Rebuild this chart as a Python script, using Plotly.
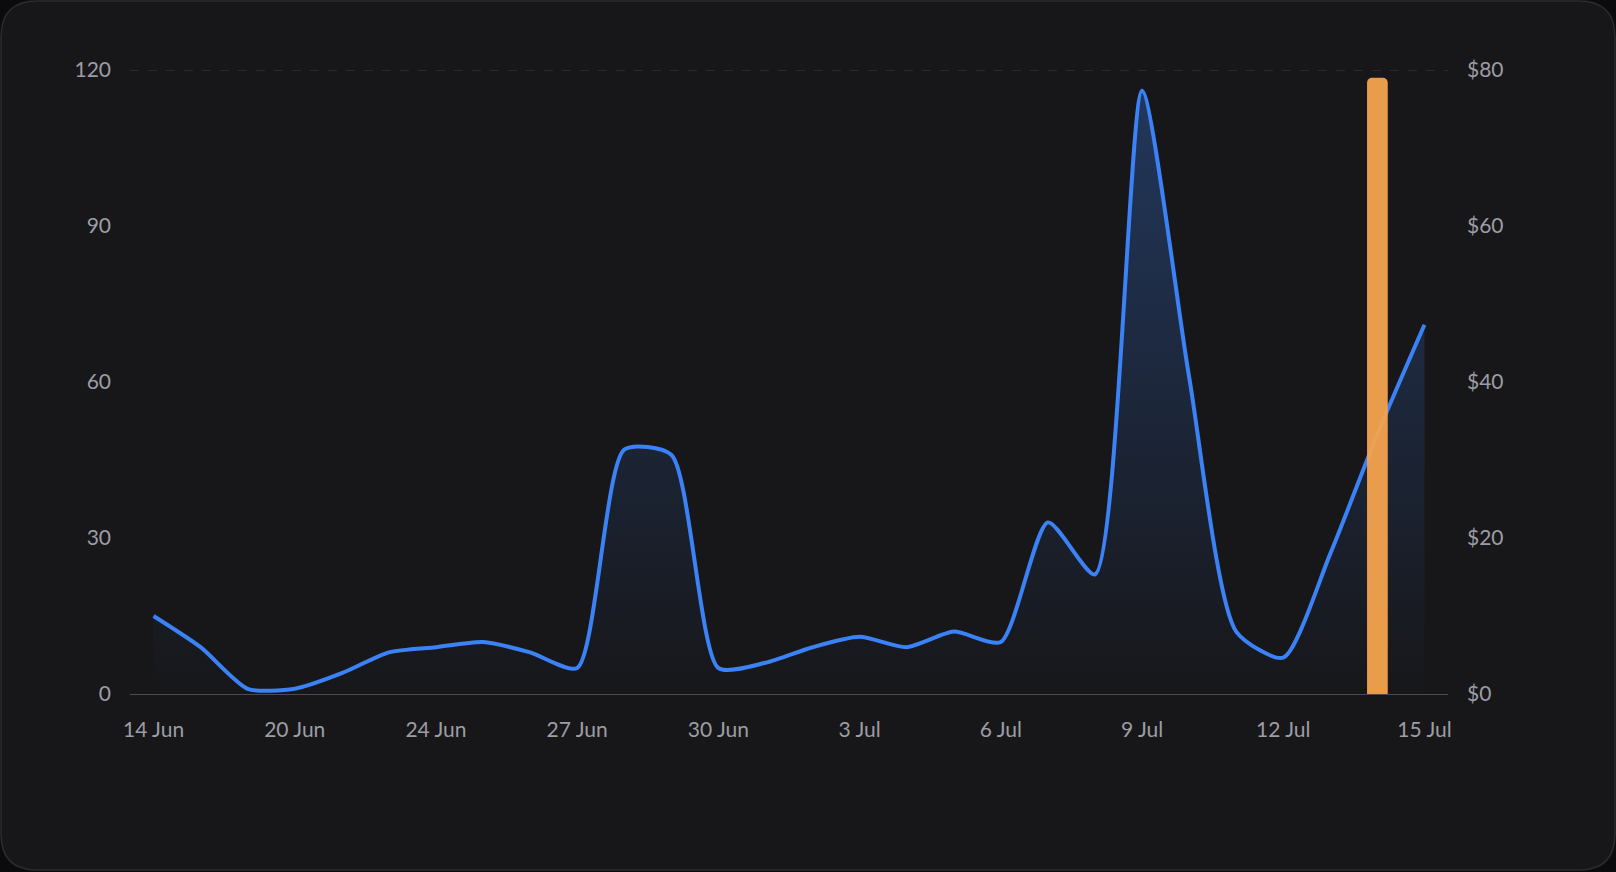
import plotly.graph_objects as go

# ---- data ----
tick_labels = ["14 Jun", "20 Jun", "24 Jun", "27 Jun", "30 Jun", "3 Jul", "6 Jul", "9 Jul", "12 Jul", "15 Jul"]
points = list(range(28))            # data points (every 3rd one labelled)
tick_points = list(range(0, 28, 3))
volume = [15, 9, 1, 1, 4, 8, 9, 10, 8, 5,
          47, 46, 5, 6, 9, 11, 9, 12, 10, 33,
          23, 116, 61, 12, 7, 27, 50, 71]
price = [0] * 26 + [79, 0]
left_ticks = [0, 30, 60, 90, 120]
right_ticks = [0, 20, 40, 60, 80]
right_tick_text = ["$0", "$20", "$40", "$60", "$80"]

# ---- layout geometry (pixels) ----
W, H = 1616, 872
ML, MR, MT, MB = 130, 168, 70, 178
PW, PH = W - ML - MR, H - MT - MB

def px(x):
    return (x - ML) / PW

def py(y):
    return (H - MB - y) / PH

def card_path(x0, y0, x1, y1, r):
    return (f"M {px(x0 + r)},{py(y0)} L {px(x1 - r)},{py(y0)} "
            f"Q {px(x1)},{py(y0)} {px(x1)},{py(y0 + r)} "
            f"L {px(x1)},{py(y1 - r)} Q {px(x1)},{py(y1)} {px(x1 - r)},{py(y1)} "
            f"L {px(x0 + r)},{py(y1)} Q {px(x0)},{py(y1)} {px(x0)},{py(y1 - r)} "
            f"L {px(x0)},{py(y0 + r)} Q {px(x0)},{py(y0)} {px(x0 + r)},{py(y0)} Z")

TXT = "#9d9da4"
FONT = "Lato"

fig = go.Figure()
fig.add_trace(go.Scatter(
    x=points, y=volume, mode="lines",
    line=dict(color="#3b82f6", width=4, shape="spline", smoothing=0.65),
    fill="tozeroy",
    fillgradient=dict(type="vertical",
                      colorscale=[[0, "rgba(59,130,246,0.0)"], [1, "rgba(59,130,246,0.30)"]]),
    hoverinfo="skip", showlegend=False,
))
fig.add_trace(go.Bar(
    x=points, y=price, yaxis="y2", width=0.44,
    marker=dict(color="rgba(244,163,77,0.95)", line=dict(width=0)),
    hoverinfo="skip", showlegend=False,
))

fig.update_layout(
    width=W, height=H,
    margin=dict(l=ML, r=MR, t=MT, b=MB),
    paper_bgcolor="#0b0b0d",
    plot_bgcolor="rgba(0,0,0,0)",
    barcornerradius=5,
    font=dict(family=FONT, color=TXT, size=21),
    xaxis=dict(range=[-0.5, 27.5], tickmode="array", tickvals=tick_points, ticktext=tick_labels,
               showgrid=False, zeroline=False, showline=True, linecolor="#4a4a50", linewidth=1.2,
               ticks="", ticklabelstandoff=17, tickfont=dict(size=21, color=TXT, family=FONT)),
    yaxis=dict(range=[0, 120], tickmode="array", tickvals=left_ticks, showgrid=False,
               zeroline=False, showline=False, ticks="", ticklabelstandoff=18,
               tickfont=dict(size=21, color=TXT, family=FONT)),
    yaxis2=dict(range=[0, 80], overlaying="y", side="right", tickmode="array",
                tickvals=right_ticks, ticktext=right_tick_text, showgrid=False, zeroline=False,
                showline=False, ticks="", ticklabelstandoff=18,
                tickfont=dict(size=21, color=TXT, family=FONT)),
    shapes=[
        dict(type="path", xref="paper", yref="paper", layer="below",
             path=card_path(1, 1, 1615, 870, 36),
             fillcolor="#17171a", line=dict(color="#2c2c30", width=1.5)),
        dict(type="line", xref="paper", yref="y", x0=0, x1=1, y0=120, y1=120, layer="below",
             line=dict(color="#3a3a40", width=1, dash="dash")),
    ],
)

fig.write_html("out.html", config={"displayModeBar": False})
